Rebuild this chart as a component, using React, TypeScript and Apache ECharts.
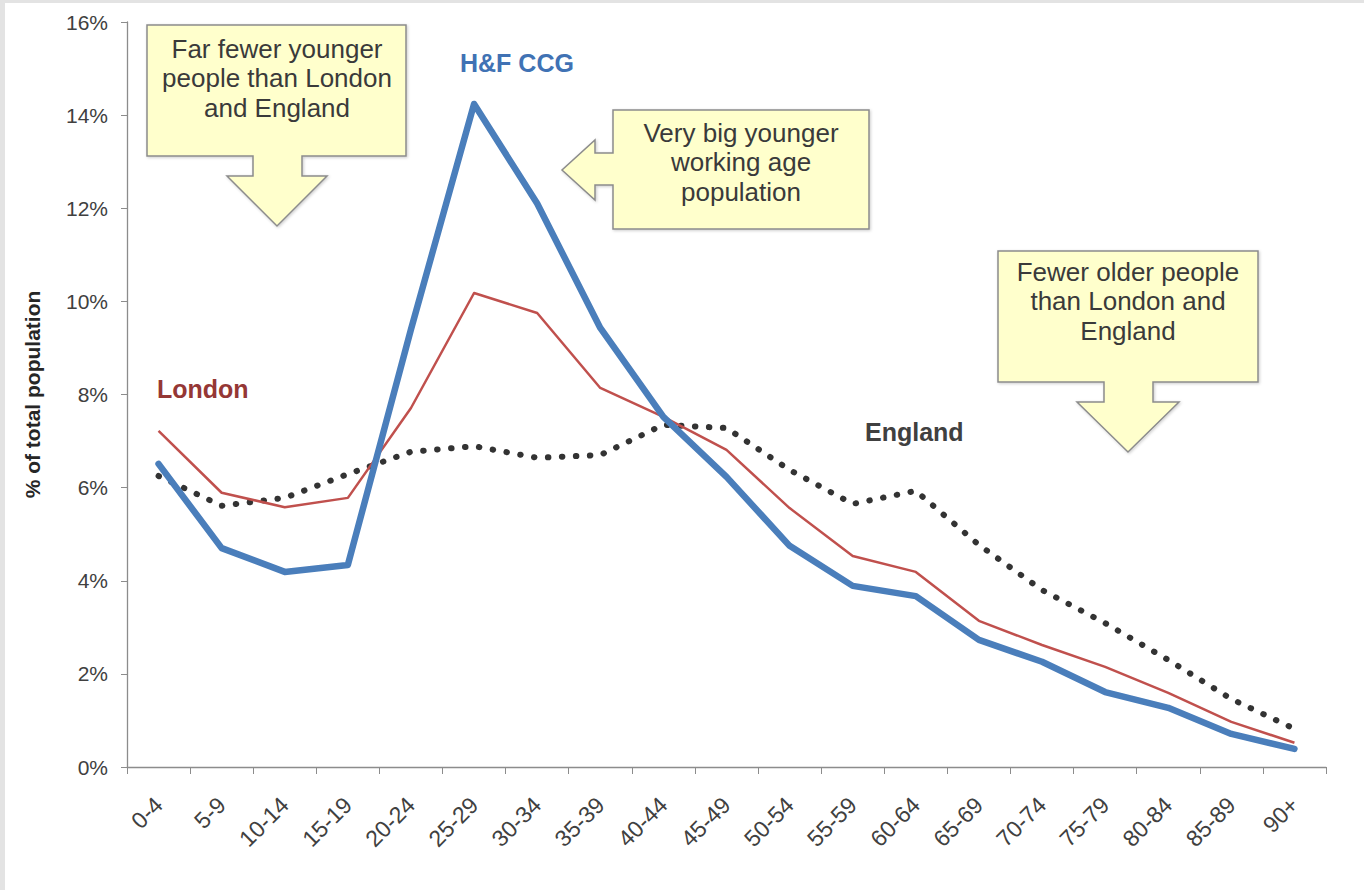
import React, { useEffect, useRef } from "react";
import * as echarts from "echarts";

const ageBands = ["0-4","5-9","10-14","15-19","20-24","25-29","30-34","35-39","40-44","45-49","50-54","55-59","60-64","65-69","70-74","75-79","80-84","85-89","90+"];
const hfCcg = [6.51,4.70,4.19,4.34,9.40,14.24,12.10,9.43,7.52,6.23,4.75,3.89,3.67,2.73,2.26,1.61,1.27,0.71,0.39];
const london = [7.22,5.89,5.58,5.78,7.71,10.18,9.75,8.14,7.52,6.81,5.56,4.53,4.19,3.14,2.62,2.15,1.59,0.97,0.52];
const england = [6.25,5.61,5.78,6.29,6.77,6.89,6.64,6.70,7.35,7.28,6.38,5.65,5.93,4.77,3.80,3.09,2.30,1.46,0.82];
const yTicks = [0, 2, 4, 6, 8, 10, 12, 14, 16];

const calloutFill = "#ffffcc";
const calloutStroke = "#8c8c8c";
const calloutText = "#3a3a3a";

export default function App() {
  const ref = useRef<HTMLDivElement>(null);
  useEffect(() => {
    if (!ref.current) return;
    const chart = echarts.init(ref.current, null, { renderer: "svg" });
    const callout = (points: number[][], cx: number, cy: number, text: string) => [
      {
        type: "polygon",
        shape: { points },
        style: {
          fill: calloutFill,
          stroke: calloutStroke,
          lineWidth: 1.5,
          shadowBlur: 3,
          shadowColor: "rgba(0,0,0,0.2)",
          shadowOffsetX: 1,
          shadowOffsetY: 1,
        },
        z: 10,
      },
      {
        type: "text",
        x: cx,
        y: cy,
        style: {
          text,
          fill: calloutText,
          font: "26px 'Liberation Sans', Arial, sans-serif",
          align: "center",
          verticalAlign: "middle",
          lineHeight: 29.5,
        },
        z: 11,
      },
    ];
    chart.setOption({
      animation: false,
      backgroundColor: "transparent",
      grid: { left: 127, right: 38, top: 22, bottom: 123, containLabel: false },
      xAxis: {
        type: "category",
        data: ageBands,
        boundaryGap: true,
        axisLine: { lineStyle: { color: "#8c8c8c", width: 1.3 } },
        axisTick: { show: true, length: 7, lineStyle: { color: "#8c8c8c" } },
        axisLabel: {
          rotate: 45,
          margin: 34,
          fontSize: 23,
          color: "#404040",
          fontFamily: "'Liberation Sans', Arial, sans-serif",
          interval: 0,
        },
        splitLine: { show: false },
      },
      yAxis: {
        type: "value",
        min: 0,
        max: 16,
        interval: 2,
        name: "% of total population",
        nameLocation: "middle",
        nameGap: 84,
        nameRotate: 90,
        nameTextStyle: {
          fontSize: 21,
          fontWeight: "bold",
          color: "#262626",
          fontFamily: "'Liberation Sans', Arial, sans-serif",
        },
        axisLine: { show: true, lineStyle: { color: "#8c8c8c", width: 1.3 } },
        axisTick: { show: true, length: 6, lineStyle: { color: "#8c8c8c" } },
        axisLabel: {
          margin: 19,
          fontSize: 21,
          color: "#404040",
          fontFamily: "'Liberation Sans', Arial, sans-serif",
          formatter: (v: number) => (yTicks.includes(v) ? v + "%" : ""),
        },
        splitLine: { show: false },
      },
      series: [
        {
          name: "England",
          type: "line",
          data: england,
          symbol: "none",
          lineStyle: { color: "#333333", width: 6, type: [0.5, 13.5], cap: "round", join: "round" },
          z: 2,
        },
        {
          name: "London",
          type: "line",
          data: london,
          symbol: "none",
          lineStyle: { color: "#c0504d", width: 2.5, join: "round" },
          z: 3,
        },
        {
          name: "H&F CCG",
          type: "line",
          data: hfCcg,
          symbol: "none",
          lineStyle: { color: "#4a7ebb", width: 6.5, cap: "round", join: "round" },
          z: 4,
        },
      ],
      graphic: [
        ...callout(
          [[147,25],[406,25],[406,156],[302,156],[302,176],[327,176],[277,226],[227,176],[253,176],[253,156],[147,156]],
          277, 78, "Far fewer younger\npeople than London\nand England"
        ),
        ...callout(
          [[613,110],[869,110],[869,229],[613,229],[613,185],[595,185],[595,200],[562,170],[595,140],[595,153],[613,153]],
          741, 162, "Very big younger\nworking age\npopulation"
        ),
        ...callout(
          [[998,251],[1258,251],[1258,382],[1153,382],[1153,402],[1179,402],[1128,452],[1077,402],[1104,402],[1104,382],[998,382]],
          1128, 301, "Fewer older people\nthan London and\nEngland"
        ),
        {
          type: "text",
          x: 460,
          y: 63,
          style: {
            text: "H&F CCG",
            fill: "#4072b4",
            font: "bold 25px 'Liberation Sans', Arial, sans-serif",
            align: "left",
            verticalAlign: "middle",
          },
          z: 12,
        },
        {
          type: "text",
          x: 157,
          y: 389,
          style: {
            text: "London",
            fill: "#953735",
            font: "bold 25px 'Liberation Sans', Arial, sans-serif",
            align: "left",
            verticalAlign: "middle",
          },
          z: 12,
        },
        {
          type: "text",
          x: 865,
          y: 432,
          style: {
            text: "England",
            fill: "#404040",
            font: "bold 25px 'Liberation Sans', Arial, sans-serif",
            align: "left",
            verticalAlign: "middle",
          },
          z: 12,
        },
      ],
    });
    return () => chart.dispose();
  }, []);

  return (
    <div style={{ position: "absolute", left: 0, top: 0, width: 1364, height: 890, background: "#e3e3e3" }}>
      <div style={{ position: "absolute", left: 5, top: 3, width: 1359, height: 887, background: "#ffffff" }} />
      <div ref={ref} style={{ position: "absolute", left: 0, top: 0, width: 1364, height: 890 }} />
    </div>
  );
}
